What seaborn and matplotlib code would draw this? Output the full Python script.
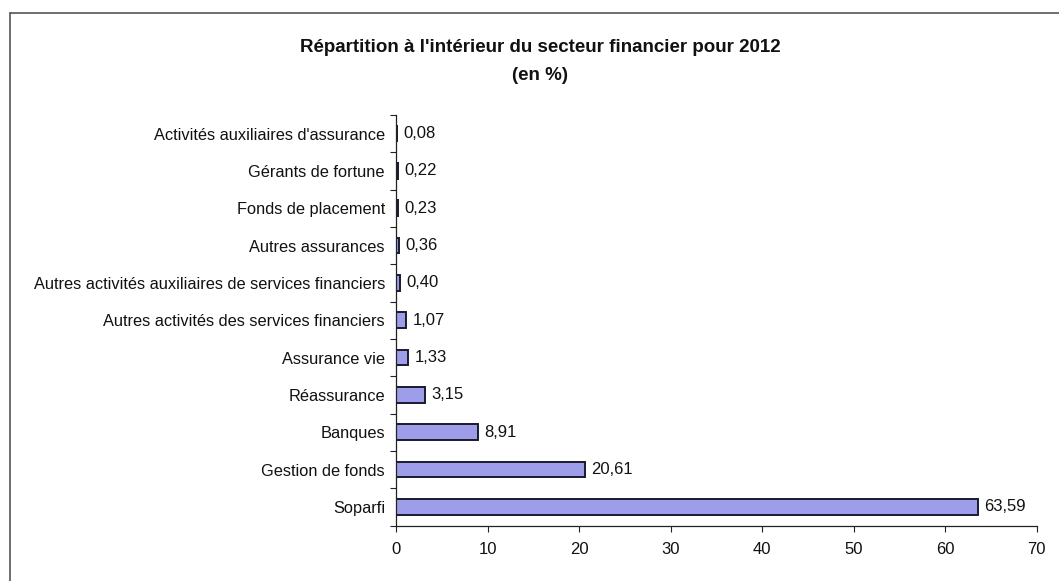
import matplotlib
matplotlib.use("Agg")
import matplotlib.pyplot as plt
import seaborn as sns
import pandas as pd
from matplotlib.lines import Line2D

categories = [
    "Activités auxiliaires d'assurance",
    "Gérants de fortune",
    "Fonds de placement",
    "Autres assurances",
    "Autres activités auxiliaires de services financiers",
    "Autres activités des services financiers",
    "Assurance vie",
    "Réassurance",
    "Banques",
    "Gestion de fonds",
    "Soparfi",
]
values = [0.08, 0.22, 0.23, 0.36, 0.40, 1.07, 1.33, 3.15, 8.91, 20.61, 63.59]
value_labels = ["0,08", "0,22", "0,23", "0,36", "0,40", "1,07", "1,33", "3,15", "8,91", "20,61", "63,59"]
x_ticks = [0, 10, 20, 30, 40, 50, 60, 70]
title_line1 = "Répartition à l'intérieur du secteur financier pour 2012"
title_line2 = "(en %)"

sns.set_theme(style="white")
plt.rcParams['font.family'] = ['Liberation Sans', 'DejaVu Sans']

df = pd.DataFrame({"cat": categories, "val": values})

fig = plt.figure(figsize=(10.59, 5.81), dpi=100)
bottom = 1 - 525.5 / 581
top = 1 - 115 / 581
ax = fig.add_axes([0.374, bottom, 0.605, top - bottom])

sns.barplot(data=df, x="val", y="cat", orient="h", ax=ax, color="#9d9dea",
            edgecolor="#1a1a2e", linewidth=1.4, width=0.42, saturation=1)

for i, (v, lab) in enumerate(zip(values, value_labels)):
    ax.text(v + 0.7, i, lab, va="center", ha="left", fontsize=12, color="#111111")

ax.set_xlim(0, 70)
ax.set_ylim(len(categories) - 0.5, -0.5)
ax.set_xticks(x_ticks)
ax.set_xticklabels([str(t) for t in x_ticks], fontsize=12, color="#111111")
ax.set_yticks(range(len(categories)))
ax.set_yticklabels(categories, fontsize=11.8, color="#111111")
ax.set_yticks([i - 0.5 for i in range(len(categories) + 1)], minor=True)
ax.tick_params(axis="y", which="major", left=True, length=0, pad=8)
ax.tick_params(axis="y", which="minor", left=True, length=4, direction="out", width=0.8, color="#222222")
ax.tick_params(axis="x", which="major", bottom=True, length=4, direction="out", width=0.8, color="#222222", pad=8)
ax.set_xlabel("")
ax.set_ylabel("")

for s in ["top", "right"]:
    ax.spines[s].set_visible(False)
for s in ["left", "bottom"]:
    ax.spines[s].set_color("#222222")
    ax.spines[s].set_linewidth(0.9)

fig.text(540 / 1059, 1 - 47 / 581, title_line1, ha="center", va="center", fontsize=13.5,
         fontweight="bold", color="#111111")
fig.text(540 / 1059, 1 - 75 / 581, title_line2, ha="center", va="center", fontsize=13.5,
         fontweight="bold", color="#111111")

# outer border (top and left visible)
fig.add_artist(Line2D([10/1059, 1.0], [1 - 13/581, 1 - 13/581], transform=fig.transFigure,
                      color="#555555", linewidth=1.2))
fig.add_artist(Line2D([10/1059, 10/1059], [0.0, 1 - 13/581], transform=fig.transFigure,
                      color="#555555", linewidth=1.2))

fig.savefig("out.png", dpi=100, facecolor="white")
